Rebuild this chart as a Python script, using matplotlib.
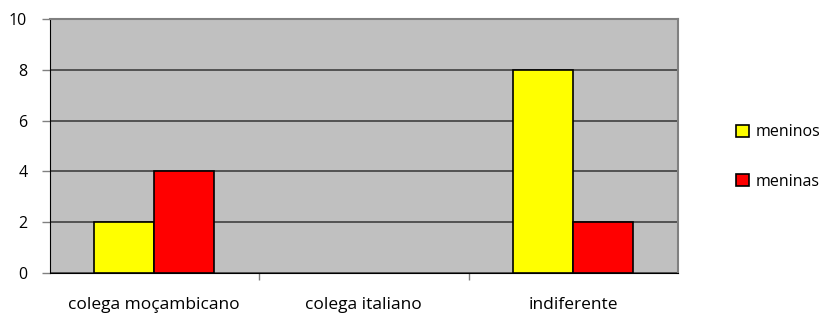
import matplotlib
matplotlib.use("Agg")
import matplotlib.pyplot as plt
import numpy as np

categories = ["colega moçambicano", "colega italiano", "indiferente"]
meninos = [2, 0, 8]
meninas = [4, 0, 2]
series_names = ["meninos", "meninas"]
yticks = [0, 2, 4, 6, 8, 10]

plt.rcParams['font.family'] = ['Open Sans', 'DejaVu Sans']

fig = plt.figure(figsize=(8.22, 3.13), dpi=100)
ax = fig.add_axes([49.5/822, 1-273/313, (678-49.5)/822, (273-19)/313])
ax.set_facecolor("#C0C0C0")

x = np.arange(len(categories))
w = 1/3.5
b1 = ax.bar(x - w/2, meninos, w, color="#FFFF00", edgecolor="black", linewidth=1.2, zorder=3, label=series_names[0])
b2 = ax.bar(x + w/2, meninas, w, color="#FF0000", edgecolor="black", linewidth=1.2, zorder=3, label=series_names[1])
for bars, vals in ((b1, meninos), (b2, meninas)):
    for r, v in zip(bars, vals):
        if v == 0:
            r.set_visible(False)

ax.set_xlim(-0.5, 2.5)
ax.set_ylim(0, 10)
ax.set_yticks(yticks)
ax.yaxis.grid(True, color="#404040", linewidth=1.2, zorder=1)
ax.set_axisbelow(True)

ax.set_xticks(x)
ax.set_xticklabels(categories, fontsize=12.5)
ax.tick_params(axis='x', length=0, pad=17)
ax.set_xticks([0.5, 1.5], minor=True)
ax.tick_params(axis='x', which='minor', length=5, color="#808080", width=1)
ax.tick_params(axis='y', length=6, color="#808080", width=1, labelsize=11.5, pad=10)

for s in ["top", "right"]:
    ax.spines[s].set_color("#808080")
    ax.spines[s].set_linewidth(1.5)
ax.spines["left"].set_color("black")
ax.spines["bottom"].set_color("black")

leg = fig.legend(handles=[b1, b2], labels=series_names, loc="upper left",
                 bbox_to_anchor=(730/822, 1-118/313), frameon=False,
                 handlelength=0.8, handleheight=0.8, handletextpad=0.4,
                 labelspacing=2.1, fontsize=11.5, borderaxespad=0)

fig.savefig("out.png", dpi=100)
